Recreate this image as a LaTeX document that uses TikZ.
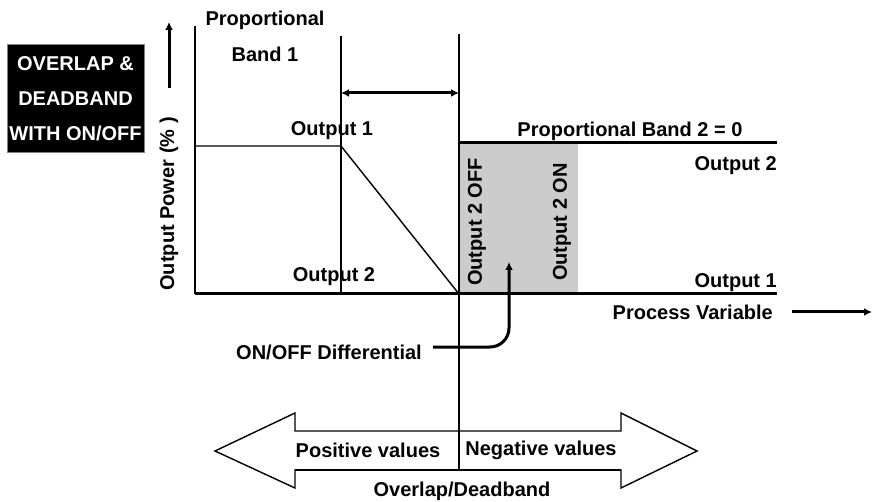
\documentclass[tikz,border=0pt]{standalone}
\usepackage{fontspec}
\setmainfont{Liberation Sans}
\usetikzlibrary{arrows.meta}
\begin{document}
\begin{tikzpicture}[x=1pt,y=-1pt,
  font=\fontsize{20}{23}\selectfont\bfseries,
  thinline/.style={line width=1.4pt},
  boldline/.style={line width=3pt},
  lbl/.style={inner sep=0pt},
  tip/.style={-{Latex[length=8pt,width=8pt]}},
  dtip/.style={{Latex[length=8pt,width=8pt]}-{Latex[length=8pt,width=8pt]}}]
\useasboundingbox (0,0) rectangle (872,502);
% title box
\node[fill=black, draw=gray, line width=1pt, minimum width=137pt, minimum height=108pt,
      text=white, align=center, inner sep=0pt,
      font=\fontsize{20}{35}\selectfont\bfseries] (title) at (75.5,99)
      {OVERLAP \&\\DEADBAND\\WITH ON/OFF};
% coordinates
\coordinate (ytop) at (195,26);
\coordinate (O) at (195,294);
\coordinate (xend) at (777,294);
\coordinate (p1top) at (341,36);
\coordinate (p1bot) at (341,294);
\coordinate (p2top) at (459,34);
\coordinate (p2bot) at (459,470);
\coordinate (hi1) at (195,146);
\coordinate (hi1e) at (341,146);
\coordinate (z) at (459,294);
\coordinate (hi2) at (459,143);
\coordinate (hi2e) at (777,143);
\coordinate (g1) at (459,143);
\coordinate (g2) at (578,293);
\coordinate (da) at (341,93);
\coordinate (db) at (459,93);
\coordinate (ua) at (169,88);
\coordinate (ub) at (169,22);
\coordinate (pva) at (792,312);
\coordinate (pvb) at (872,312);
\coordinate (cv1) at (433,347);
\coordinate (cv2) at (509,347);
\coordinate (cv3) at (509,262);
% shaded band
\fill[gray!40] (g1) rectangle (g2);
% lines
\draw[thinline] (ytop) -- (O);
\draw[thinline] (p1top) -- (p1bot);
\draw[thinline] (hi1) -- (hi1e) -- (z);
\draw[boldline] (O) -- (xend);
\draw[boldline] (hi2) -- (hi2e);
\draw[boldline,dtip] (da) -- (db);
\draw[boldline,tip] (ua) -- (ub);
\draw[boldline,tip] (pva) -- (pvb);
\draw[boldline,tip,rounded corners=19pt] (cv1) -- (cv2) -- (cv3);
% big double arrow
\draw[thinline, fill=white] (215,451) -- (295,413) -- (295,431) -- (621,431) -- (621,413)
  -- (697,451) -- (621,488) -- (621,470) -- (295,470) -- (295,488) -- cycle;
\coordinate (sh1) at (295,470);
\coordinate (sh2) at (621,470);
\draw[line width=2.6pt] (sh1) -- (sh2);
\draw[thinline] (p2top) -- (p2bot);
% labels
\node[lbl] (prop) at (265,20) {Proportional};
\node[lbl] (band1) at (265,54) {Band 1};
\node[lbl] (out1a) at (332,131) {Output 1};
\node[lbl] (out2a) at (334,277) {Output 2};
\node[lbl, rotate=90] (opow) at (169,204) {Output Power (\% )};
\node[lbl] (pb2) at (630,131) {Proportional Band 2 = 0};
\node[lbl, anchor=east] (out2b) at (777,166) {Output 2};
\node[lbl, anchor=east] (out1b) at (777,283) {Output 1};
\node[lbl, rotate=90] (off) at (477,222) {Output 2 OFF};
\node[lbl, rotate=90] (on) at (562,222) {Output 2 ON};
\node[lbl, anchor=east] (pv) at (773,312) {Process Variable};
\node[lbl] (diff) at (329,352) {ON/OFF Differential};
\node[lbl] (posv) at (368,450) {Positive values};
\node[lbl] (negv) at (541,450) {Negative values};
\node[lbl] (ovl) at (462,491) {Overlap/Deadband};
\end{tikzpicture}
\end{document}
